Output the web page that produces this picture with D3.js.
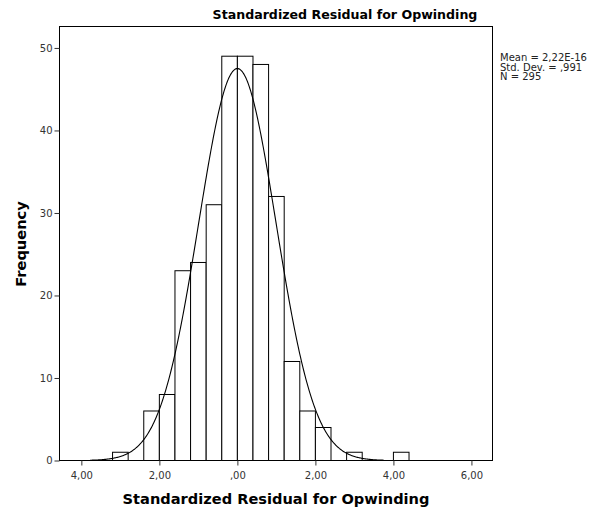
<!DOCTYPE html>
<html>
<head>
<meta charset="utf-8">
<script src="https://cdn.jsdelivr.net/npm/d3@7"></script>
<style>
  body { margin: 0; background: #fff; }
  svg { font-family: "DejaVu Sans", sans-serif; }
</style>
</head>
<body>
<div id="chart"></div>
<script>
// histogram bins (lower edge), width 0.4
const binStarts = [-3.2, -2.8, -2.4, -2.0, -1.6, -1.2, -0.8, -0.4, 0.0, 0.4, 0.8, 1.2, 1.6, 2.0, 2.4, 2.8, 3.2, 3.6, 4.0]
const counts    = [1, 0, 6, 8, 23, 24, 31, 49, 49, 48, 32, 12, 6, 4, 0, 1, 0, 0, 1]
const binWidth = 0.4

const xTicks = [-4, -2, 0, 2, 4, 6]
const xTickLabels = ["4,00", "2,00", ",00", "2,00", "4,00", "6,00"]
const yTicks = [0, 10, 20, 30, 40, 50]

const mean = 2.22e-16
const sd = 0.991
const n = 295
const statLines = ["Mean = 2,22E-16", "Std. Dev. = ,991", "N = 295"]

const title = "Standardized Residual for Opwinding"

const width = 612
const height = 512
const plotLeft = 59.5, plotRight = 492.5, plotTop = 26.5, plotBottom = 460.5

const svg = d3.select("#chart").append("svg")
    .attr("width", width)
    .attr("height", height)

const x = d3.scaleLinear()
    .domain([-4.56, 6.54])
    .range([plotLeft, plotRight])

const y = d3.scaleLinear()
    .domain([0, 52.6])
    .range([plotBottom, plotTop])

// frame
svg.append("rect")
    .attr("x", plotLeft)
    .attr("y", plotTop)
    .attr("width", plotRight - plotLeft)
    .attr("height", plotBottom - plotTop)
    .attr("fill", "none")
    .attr("stroke", "#000")
    .attr("stroke-width", 1)

// bars
svg.append("g")
    .selectAll("rect")
    .data(binStarts.map((s, i) => ({ s: s, c: counts[i] })).filter(d => d.c > 0))
    .join("rect")
    .attr("x", d => x(d.s))
    .attr("y", d => y(d.c))
    .attr("width", d => x(d.s + binWidth) - x(d.s))
    .attr("height", d => y(0) - y(d.c))
    .attr("fill", "#fff")
    .attr("stroke", "#000")
    .attr("stroke-width", 1)

// normal curve
const curveX = d3.range(-3.78, 3.78, 0.02)
const normal = v => n * binWidth / (sd * Math.sqrt(2 * Math.PI)) * Math.exp(-0.5 * Math.pow((v - mean) / sd, 2))
svg.append("path")
    .datum(curveX)
    .attr("d", d3.line().x(d => x(d)).y(d => y(normal(d))))
    .attr("fill", "none")
    .attr("stroke", "#000")
    .attr("stroke-width", 1.1)

// y axis
const yAxis = svg.append("g")
    .attr("transform", "translate(" + plotLeft + ",0)")
    .call(d3.axisLeft(y).tickValues(yTicks).tickSize(5).tickPadding(2).tickFormat(d3.format("d")))
yAxis.select(".domain").remove()
yAxis.selectAll("line").attr("stroke", "#333")
yAxis.selectAll("text").attr("font-size", 10).attr("fill", "#333")
    .attr("font-family", "DejaVu Sans")

// x axis
const xAxis = svg.append("g")
    .attr("transform", "translate(0," + plotBottom + ")")
    .call(d3.axisBottom(x).tickValues(xTicks).tickSize(5).tickPadding(6)
        .tickFormat((d, i) => xTickLabels[i]))
xAxis.select(".domain").remove()
xAxis.selectAll("line").attr("stroke", "#333")
xAxis.selectAll("text").attr("font-size", 10).attr("fill", "#333")
    .attr("font-family", "DejaVu Sans")

// titles
svg.append("text")
    .attr("x", 345)
    .attr("y", 19)
    .attr("text-anchor", "middle")
    .attr("font-weight", "bold")
    .attr("font-size", 12.6)
    .text(title)

svg.append("text")
    .attr("x", 276)
    .attr("y", 504)
    .attr("text-anchor", "middle")
    .attr("font-weight", "bold")
    .attr("font-size", 14.6)
    .text(title)

svg.append("text")
    .attr("transform", "translate(26,244) rotate(-90)")
    .attr("text-anchor", "middle")
    .attr("font-weight", "bold")
    .attr("font-size", 14.6)
    .text("Frequency")

// statistics box
svg.append("g")
    .selectAll("text")
    .data(statLines)
    .join("text")
    .attr("x", 500)
    .attr("y", (d, i) => 61 + i * 9.5)
    .attr("font-size", 10)
    .attr("fill", "#222")
    .text(d => d)
</script>
</body>
</html>
